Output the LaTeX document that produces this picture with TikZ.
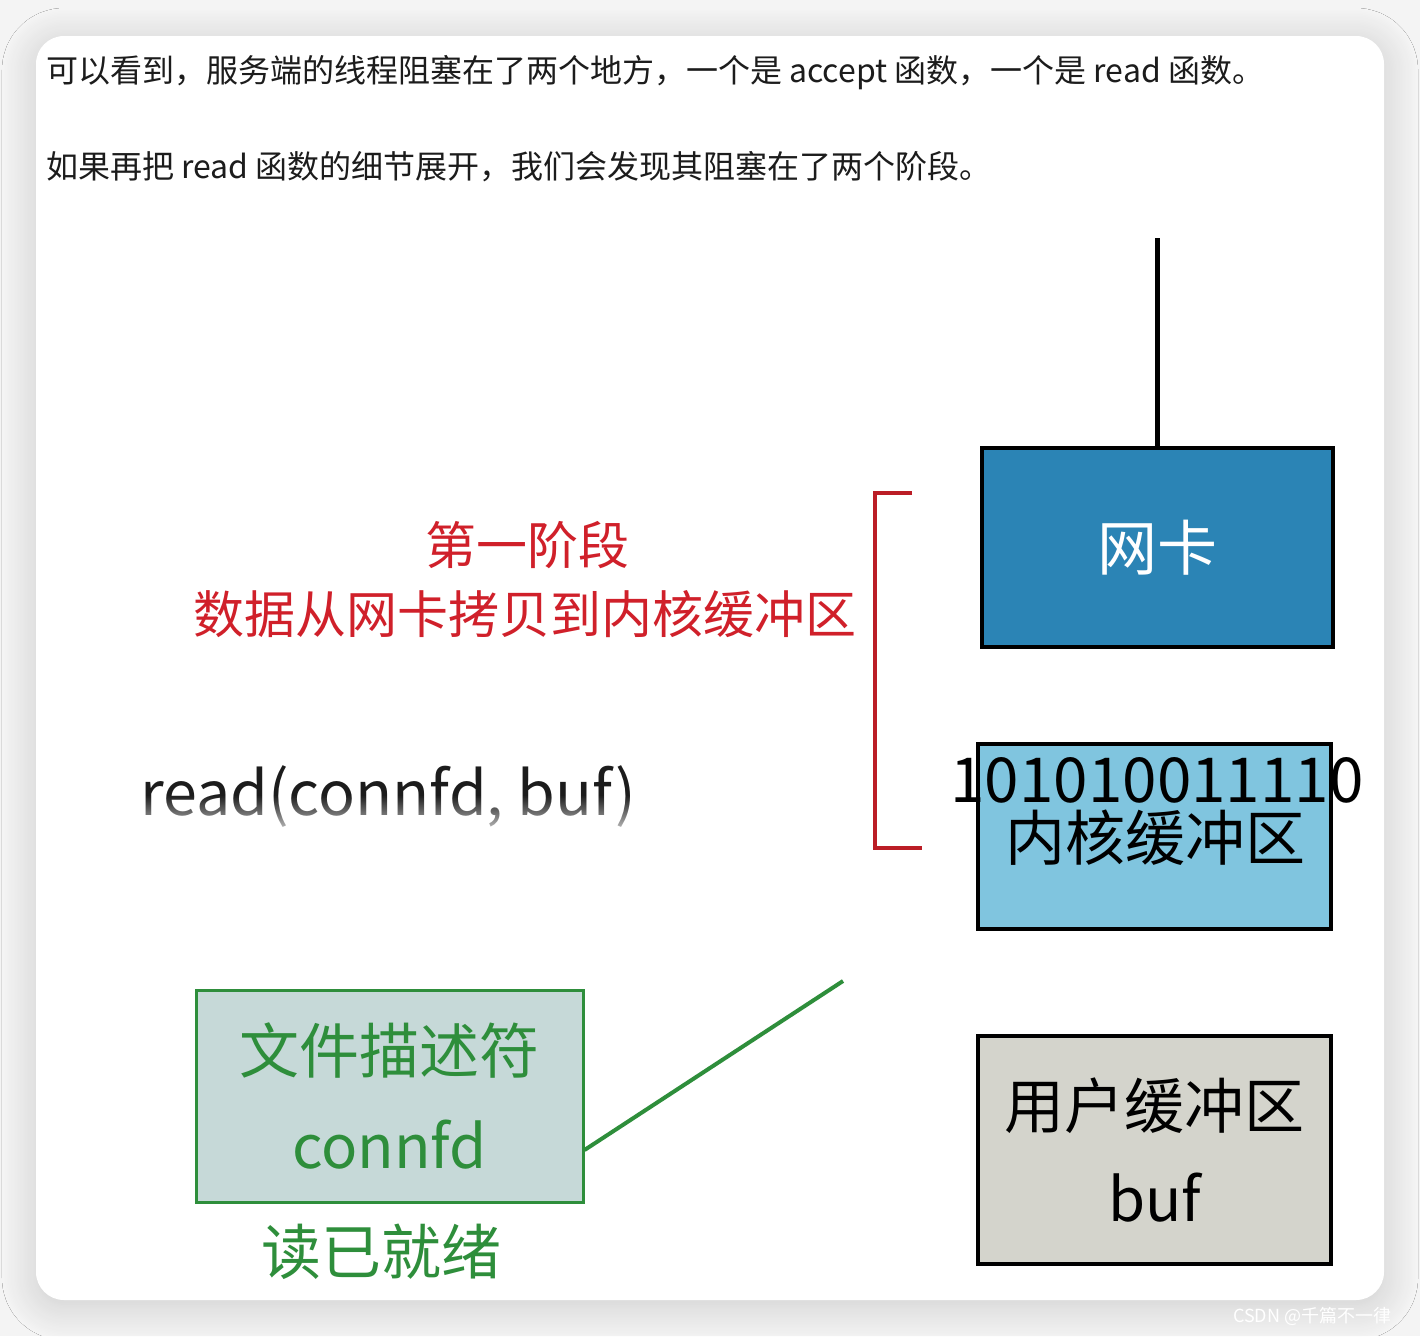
\documentclass[tikz,border=0pt]{standalone}
\usepackage{fontspec}
\setmainfont{Noto Sans CJK SC}
\usepackage{tikz}
\usetikzlibrary{positioning,fadings,shadows.blur}
\usepackage{xcolor}
\definecolor{nicblue}{HTML}{2B84B5}
\definecolor{kernblue}{HTML}{80C5DF}
\definecolor{usergray}{HTML}{D4D4CC}
\definecolor{fdfill}{HTML}{C6D9D8}
\definecolor{fdgreen}{HTML}{2E8E3B}
\definecolor{stagered}{HTML}{D0202A}
\definecolor{pagegray}{HTML}{F4F4F4}
\definecolor{bodytext}{HTML}{1C1C1C}
\newcommand{\fsz}[1]{\fontsize{#1}{#1}\selectfont}
\newcommand{\fszl}[2]{\fontsize{#1}{#2}\selectfont}

\begin{document}
\begin{tikzpicture}[x=1pt, y=-1pt,
  bufbox/.style={draw=black, line width=3.5pt, inner sep=0pt, align=center, font=\fsz{60}},
  fdbox/.style={draw=fdgreen, line width=3pt, fill=fdfill, inner sep=0pt, align=center, text=fdgreen},
  note/.style={font=\fsz{32}, text=bodytext, anchor=base west, inner sep=0pt},
  stagetext/.style={text=stagered, font=\fsz{51}, inner sep=0pt},
  bracket/.style={draw=stagered!90!black, line width=4pt},
  link/.style={draw=fdgreen, line width=4pt}]

% Page and card
\useasboundingbox (0,0) rectangle (1420,1336);
\fill[pagegray] (0,0) rectangle (1420,1336);
\fill[white, rounded corners=28pt, blur shadow={shadow xshift=0pt, shadow yshift=-6pt, shadow blur radius=34pt, shadow blur steps=24, shadow opacity=16}] (36,36) rectangle (1384,1300);

% Intro lines
\node[note] (line1) at (46,82) {可以看到，服务端的线程阻塞在了两个地方，一个是 accept 函数，一个是 read 函数。};
\node[note] (line2) at (46,178) {如果再把 read 函数的细节展开，我们会发现其阻塞在了两个阶段。};

% Buffers
\node[bufbox, fill=nicblue, text=white, minimum width=351pt, minimum height=199pt] (nic) at (1157.5,547.5) {网卡};
\coordinate (wire) at (1157.5,238);
\draw[line width=4.5pt] (wire) -- (nic.north);

\node[bufbox, fill=kernblue, minimum width=353pt, minimum height=185pt] (kern) at (1154.5,836.5) {};
\node[font=\fsz{62}, inner sep=0pt] (bits) at (1157,780) {101010011110};
\node[font=\fsz{60}, inner sep=0pt] (kname) at (1155,838) {内核缓冲区};

\node[bufbox, fill=usergray, minimum width=353pt, minimum height=228pt, font={\fszl{60}{93}}] (user) at (1154.5,1150) {用户缓冲区\\buf};

% First stage
\node[stagetext] (stage) at (527,545) {第一阶段};
\node[stagetext] (stagedesc) at (525,614) {数据从网卡拷贝到内核缓冲区};
\draw[bracket] (912,493) -- (875,493) -- (875,848) -- (922,848);

% read call with faded lower half
\node[font=\fsz{61}, text=bodytext, anchor=base west, inner sep=0pt] (call) at (140,815) {read(connfd, buf)};
\fill[white, fill opacity=0.8, path fading=north] (130,795) rectangle (650,834);

% File descriptor
\node[fdbox, minimum width=387pt, minimum height=212pt, font={\fszl{60}{95}}] (fd) at (389.5,1096) {文件描述符\\connfd};
\node[font=\fsz{60}, text=fdgreen, inner sep=0pt] (ready) at (381,1252) {读已就绪};
\coordinate (linkend) at (843,981);
\draw[link] ([yshift=-54pt]fd.east) -- (linkend);

% Watermark
\node[font=\fsz{18}, text=white, anchor=west, inner sep=0pt] (mark) at (1233,1316) {CSDN @千篇不一律};
\end{tikzpicture}
\end{document}
